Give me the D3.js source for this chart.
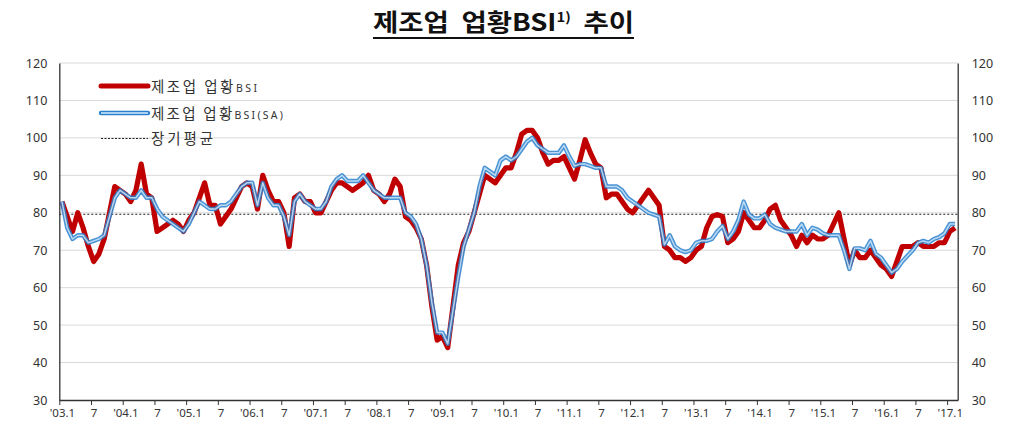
<!DOCTYPE html>
<html>
<head>
<meta charset="utf-8">
<script src="https://cdn.jsdelivr.net/npm/d3@7"></script>
<style>
  body { margin: 0; background: #fff; }
  text { font-family: "Noto Sans CJK KR", "Noto Sans", sans-serif; }
</style>
</head>
<body>
<svg id="chart" width="1016" height="427"></svg>
<script>
// 제조업 업황BSI, 2003.1 ~ 2017.2 (monthly)
const bsi = [
  83, 79, 75, 80, 76, 71, 67, 69, 73, 80, 87, 86,   // 2003
  85, 83, 86, 93, 85, 84, 75, 76, 77, 78, 77, 75,   // 2004
  78, 80, 84, 88, 82, 82, 77, 79, 81, 84, 87, 88,   // 2005
  87, 81, 90, 86, 83, 83, 80, 71, 84, 85, 83, 83,   // 2006
  80, 80, 83, 86, 88, 88, 87, 86, 87, 88, 90, 86,   // 2007
  85, 83, 85, 89, 87, 79, 78, 76, 73, 66, 55, 46,   // 2008
  47, 44, 55, 66, 72, 75, 80, 85, 90, 89, 88, 90,   // 2009
  92, 92, 96, 101, 102, 102, 100, 96, 93, 94, 94, 95, // 2010
  92, 89, 94, 99.5, 96, 93, 92, 84, 85, 85, 83, 81, // 2011
  80, 82, 84, 86, 84, 82, 71, 70, 68, 68, 67, 68,   // 2012
  70, 71, 76, 79, 79.5, 79, 72, 73, 75, 80, 78, 76, // 2013
  76, 78, 81, 82, 78, 76, 74, 71, 74, 72, 74, 73,   // 2014
  73, 74, 77, 80, 73, 66, 70, 68, 68, 70, 68, 66,   // 2015
  65, 63, 67, 71, 71, 71, 72, 71, 71, 71, 72, 72,   // 2016
  75, 76                                            // 2017
];
const bsiSA = [
  83, 76, 73, 74, 74, 72, 72.5, 73, 74, 79, 84, 86,
  85, 84, 84, 86, 84, 84, 81, 79, 78, 77, 76, 75,
  77, 80, 83, 82, 81, 81, 82, 82, 83, 85, 87, 88,
  88, 82, 88, 84, 82, 82, 79, 74, 83, 85, 83, 82,
  81, 81, 83, 87, 89, 90, 88.5, 88.5, 88.5, 90, 88, 86,
  85, 84, 84, 84, 84, 80, 79, 77, 73, 66, 56, 48,
  48, 45, 54, 63, 71, 75.5, 80, 87, 92, 91, 90, 94,
  95, 94, 95, 97, 99, 100, 98, 97, 96, 96, 96, 98,
  95, 92.5, 93, 93, 92.5, 92, 92, 87, 87, 87, 86, 84,
  83, 82, 81, 80, 79.5, 79, 71.5, 74, 71, 70, 69.5, 70,
  72, 72.5, 72.5, 73, 75, 76.5, 73, 75, 78, 83, 79.5, 78.5,
  78.5, 79.5, 77, 76, 75.5, 75, 75, 75, 77, 74, 76, 75.5,
  74.5, 74, 74, 74, 70, 65, 70.5, 70.5, 70, 72.5, 69, 68,
  66, 64, 65, 67, 68.5, 70, 72, 72.5, 72, 73, 73.5, 74.5,
  77, 77
];
const longAvg = 79.6;
const yTicks = [30, 40, 50, 60, 70, 80, 90, 100, 110, 120];
const tickLabels = ["'03.1", "7", "'04.1", "7", "'05.1", "7", "'06.1", "7", "'07.1", "7",
  "'08.1", "7", "'09.1", "7", "'10.1", "7", "'11.1", "7", "'12.1", "7",
  "'13.1", "7", "'14.1", "7", "'15.1", "7", "'16.1", "7", "'17.1"];
const seriesNames = ["제조업 업황", "제조업 업황", "장기평균"];

const months = d3.range(bsi.length).map(i => `${2003 + Math.floor(i / 12)}.${i % 12 + 1}`);

const plotLeft = 59.3, plotRight = 957.7, plotTop = 63, plotBottom = 400;
const svg = d3.select("#chart");

const x = d3.scaleBand().domain(months).range([plotLeft, plotRight]).padding(0);
const bw = x.bandwidth();
const y = d3.scaleLinear().domain([30, 120]).range([plotBottom, plotTop]);
const cx = (d, i) => x(months[i]) + bw / 2;

// gridlines
svg.append("g")
  .selectAll("line")
  .data(yTicks.filter(t => t > 30))
  .enter().append("line")
  .attr("x1", plotLeft).attr("x2", plotRight)
  .attr("y1", d => y(d)).attr("y2", d => y(d))
  .style("stroke", "#d9d9d9")
  .style("stroke-width", 1);

// long term average
svg.append("line")
  .attr("x1", plotLeft).attr("x2", plotRight)
  .attr("y1", y(longAvg)).attr("y2", y(longAvg))
  .style("stroke", "#222")
  .style("stroke-width", 1)
  .style("stroke-dasharray", "2,2");

// y axes (left and right)
const yLeft = svg.append("g")
  .attr("transform", `translate(${plotLeft},0)`)
  .call(d3.axisLeft(y).tickValues(yTicks).tickSize(0).tickSizeOuter(0).tickPadding(12));
const yRight = svg.append("g")
  .attr("transform", `translate(${plotRight},0)`)
  .call(d3.axisRight(y).tickValues(yTicks).tickSize(0).tickSizeOuter(0).tickPadding(14));
[yLeft, yRight].forEach(g => {
  g.select(".domain").style("stroke", "#333").style("stroke-width", 1.3);
  g.selectAll("text")
    .style("font-family", "'Noto Sans', sans-serif")
    .style("font-size", "12.5px")
    .style("fill", "#333");
});

// x axis: ticks on month boundaries every 6 months, labels on the month centre
const xEdge = d3.scaleLinear().domain([0, months.length]).range([plotLeft, plotRight]);
const xAxis = svg.append("g")
  .attr("transform", `translate(0,${plotBottom})`)
  .call(d3.axisBottom(xEdge)
    .tickValues(d3.range(0, months.length, 6))
    .tickSize(5).tickSizeOuter(0).tickPadding(4)
    .tickFormat((d, i) => tickLabels[i]));
xAxis.select(".domain").style("stroke", "#333").style("stroke-width", 1.3);
xAxis.selectAll(".tick line").style("stroke", "#333");
xAxis.selectAll("text")
  .attr("x", bw / 2)
  .style("font-family", "'Noto Sans', sans-serif")
  .style("font-size", "11.5px")
  .style("fill", "#333");

// lines
const line = d3.line().x(cx).y(d => y(d));

svg.append("path")
  .datum(bsi)
  .attr("d", line)
  .style("fill", "none")
  .style("stroke", "#c00000")
  .style("stroke-width", 5.2)
  .style("stroke-linejoin", "round");

svg.append("path")
  .datum(bsiSA)
  .attr("d", line)
  .style("fill", "none")
  .style("stroke", "#2a80cc")
  .style("stroke-opacity", 0.85)
  .style("stroke-width", 4.4)
  .style("stroke-linejoin", "round");
svg.append("path")
  .datum(bsiSA)
  .attr("d", line)
  .style("fill", "none")
  .style("stroke", "#d6ecfb")
  .style("stroke-opacity", 0.8)
  .style("stroke-width", 1.5)
  .style("stroke-linejoin", "round");

// legend
const legend = svg.append("g");
const legendRows = [86, 113, 138.5];

legend.append("line")
  .attr("x1", 101).attr("x2", 148).attr("y1", legendRows[0]).attr("y2", legendRows[0])
  .style("stroke", "#c00000").style("stroke-width", 5).style("stroke-linecap", "round");
legend.append("line")
  .attr("x1", 101).attr("x2", 148).attr("y1", legendRows[1]).attr("y2", legendRows[1])
  .style("stroke", "#2a80cc").style("stroke-width", 4.4).style("stroke-linecap", "round");
legend.append("line")
  .attr("x1", 101).attr("x2", 148).attr("y1", legendRows[1]).attr("y2", legendRows[1])
  .style("stroke", "#d6ecfb").style("stroke-width", 1.5);
legend.append("line")
  .attr("x1", 101).attr("x2", 148).attr("y1", legendRows[2]).attr("y2", legendRows[2])
  .style("stroke", "#222").style("stroke-width", 1).style("stroke-dasharray", "2,1.5");

const suffixes = ["BSI", "BSI(SA)", ""];
const legendWidths = [106, 132, 62];
legendRows.forEach((ry, i) => {
  const t = legend.append("text")
    .attr("x", 151)
    .attr("y", ry + 5.5)
    .style("fill", "#333")
    .style("font-size", "14.5px")
    .attr("xml:space", "preserve");
  t.append("tspan").text(seriesNames[i]);
  if (suffixes[i]) {
    t.append("tspan")
      .style("font-size", "10.5px")
      .style("font-family", "'Noto Sans', sans-serif")
      .text(suffixes[i]);
  }
  t.attr("textLength", legendWidths[i]).attr("lengthAdjust", "spacing");
});

// title
const title = svg.append("text")
  .attr("x", 503.5)
  .attr("y", 31)
  .attr("text-anchor", "middle")
  .style("font-size", "24px")
  .style("font-weight", "bold")
  .style("fill", "#111")
  .attr("xml:space", "preserve");
title.append("tspan").text("제조업  업황BSI");
title.append("tspan").attr("dy", -9).style("font-size", "13px").text("1)");
title.append("tspan").attr("dy", 9).text("  추이");
title.attr("textLength", 261).attr("lengthAdjust", "spacingAndGlyphs");
svg.append("line")
  .attr("x1", 503.5 - 261 / 2).attr("x2", 503.5 + 261 / 2)
  .attr("y1", 38).attr("y2", 38)
  .style("stroke", "#111")
  .style("stroke-width", 2);
</script>
</body>
</html>
